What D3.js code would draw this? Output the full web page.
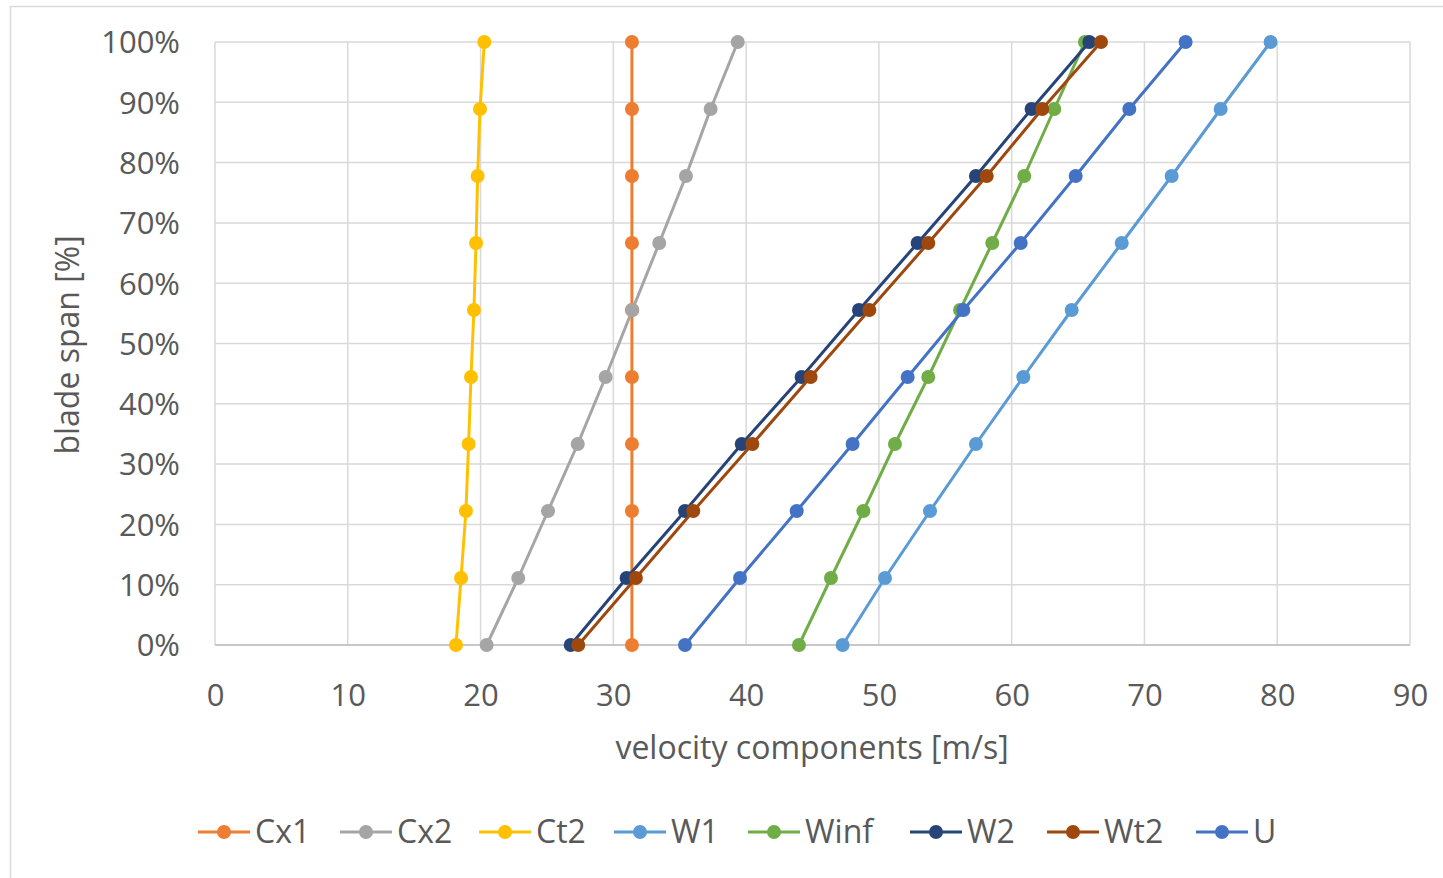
<!DOCTYPE html>
<html>
<head>
<meta charset="utf-8">
<script src="https://cdn.jsdelivr.net/npm/d3@7"></script>
<style>
  html, body { margin: 0; padding: 0; background: #fff; }
  svg { display: block; }
  text { font-family: "Open Sans", "Noto Sans", sans-serif; fill: #595959; }
</style>
</head>
<body>
<svg id="chart" width="1443" height="878"></svg>
<script>
// Blade span stations (fraction of span, 10 evenly spaced stations)
const span = [0, 1/9, 2/9, 3/9, 4/9, 5/9, 6/9, 7/9, 8/9, 1];

// Velocity components along the span [m/s]
const Cx1  = [31.4, 31.4, 31.4, 31.4, 31.4, 31.4, 31.4, 31.4, 31.4, 31.4];
const Cx2  = [20.46, 22.84, 25.08, 27.32, 29.42, 31.43, 33.46, 35.47, 37.33, 39.37];
const Ct2  = [18.15, 18.53, 18.9, 19.1, 19.28, 19.5, 19.66, 19.78, 19.96, 20.28];
const W1   = [47.27, 50.46, 53.85, 57.31, 60.88, 64.52, 68.29, 72.05, 75.74, 79.5];
const Winf = [43.98, 46.39, 48.83, 51.21, 53.72, 56.11, 58.54, 60.95, 63.21, 65.52];
const W2   = [26.79, 31.0, 35.4, 39.67, 44.18, 48.5, 52.92, 57.31, 61.5, 65.85];
const Wt2  = [27.36, 31.7, 36.02, 40.47, 44.86, 49.28, 53.72, 58.12, 62.3, 66.73];
const U    = [35.4, 39.54, 43.81, 48.02, 52.17, 56.36, 60.68, 64.82, 68.86, 73.1];

const seriesNames = ["Cx1", "Cx2", "Ct2", "W1", "Winf", "W2", "Wt2", "U"];
const seriesValues = [Cx1, Cx2, Ct2, W1, Winf, W2, Wt2, U];
const seriesColors = ["#ED7D31", "#A5A5A5", "#FFC000", "#5B9BD5", "#70AD47", "#264478", "#9E480E", "#4472C4"];

const xTicks = [0, 10, 20, 30, 40, 50, 60, 70, 80, 90];
const yTicks = [0, 0.1, 0.2, 0.3, 0.4, 0.5, 0.6, 0.7, 0.8, 0.9, 1.0];

const svg = d3.select("#chart");

// Chart frame
svg.append("rect")
  .attr("x", 10.5).attr("y", 6.5)
  .attr("width", 1440).attr("height", 880)
  .attr("fill", "#fff").attr("stroke", "#d9d9d9").attr("stroke-width", 1.5);

const plot = { left: 215, right: 1410, top: 42, bottom: 645 };

const x = d3.scaleLinear().domain([0, 90]).range([plot.left, plot.right]);
const y = d3.scaleLinear().domain([0, 1]).range([plot.bottom, plot.top]);

// Gridlines
const grid = svg.append("g");
grid.selectAll("line.v").data(xTicks).join("line")
  .attr("x1", d => x(d)).attr("x2", d => x(d))
  .attr("y1", plot.top).attr("y2", plot.bottom)
  .attr("stroke", "#d9d9d9").attr("stroke-width", 1.5);
grid.selectAll("line.h").data(yTicks).join("line")
  .attr("x1", plot.left).attr("x2", plot.right)
  .attr("y1", d => y(d)).attr("y2", d => y(d))
  .attr("stroke", "#d9d9d9").attr("stroke-width", 1.5);

// Bottom axis line
svg.append("line")
  .attr("x1", plot.left).attr("x2", plot.right)
  .attr("y1", plot.bottom).attr("y2", plot.bottom)
  .attr("stroke", "#bfbfbf").attr("stroke-width", 1.5);

// Axis tick labels
const xAxis = d3.axisBottom(x).tickValues(xTicks).tickSize(0).tickPadding(0);
const gx = svg.append("g").attr("transform", `translate(0,${plot.bottom})`).call(xAxis);
gx.select(".domain").remove();
gx.selectAll("text")
  .attr("y", 61).attr("dy", null)
  .style("font-size", "31px").style("fill", "#595959")
  .style("font-family", "'Open Sans', sans-serif");

const yAxis = d3.axisLeft(y).tickValues(yTicks).tickSize(0).tickPadding(0).tickFormat(d3.format(".0%"));
const gy = svg.append("g").attr("transform", `translate(${plot.left},0)`).call(yAxis);
gy.select(".domain").remove();
gy.selectAll("text")
  .attr("x", -35).attr("dy", "0.35em")
  .style("font-size", "31px").style("fill", "#595959")
  .style("font-family", "'Open Sans', sans-serif");

// Axis titles
svg.append("text")
  .attr("x", 812).attr("y", 759)
  .attr("text-anchor", "middle")
  .style("font-size", "32px")
  .text("velocity components [m/s]");

svg.append("text")
  .attr("transform", "translate(79,345) rotate(-90)")
  .attr("text-anchor", "middle")
  .style("font-size", "32px")
  .text("blade span [%]");

// Series lines and markers
const line = d3.line().x(d => x(d[0])).y(d => y(d[1]));

seriesNames.forEach((name, i) => {
  const pts = seriesValues[i].map((v, k) => [v, span[k]]);
  const g = svg.append("g").attr("class", "series");
  g.append("path")
    .datum(pts)
    .attr("d", line)
    .attr("fill", "none")
    .attr("stroke", seriesColors[i])
    .attr("stroke-width", 3)
    .attr("stroke-linejoin", "round");
  g.selectAll("circle").data(pts).join("circle")
    .attr("cx", d => x(d[0])).attr("cy", d => y(d[1]))
    .attr("r", 7)
    .attr("fill", seriesColors[i]);
});

// Legend
const legendX = [198, 340, 479, 614, 748, 910, 1047, 1196];
const legendY = 832;
const legend = svg.append("g");
seriesNames.forEach((name, i) => {
  const lg = legend.append("g").attr("transform", `translate(${legendX[i]},${legendY})`);
  lg.append("line").attr("x1", 0).attr("x2", 52).attr("y1", 0).attr("y2", 0)
    .attr("stroke", seriesColors[i]).attr("stroke-width", 3);
  lg.append("circle").attr("cx", 26).attr("cy", 0).attr("r", 7).attr("fill", seriesColors[i]);
  lg.append("text").attr("x", 57).attr("y", 0).attr("dy", "0.35em")
    .style("font-size", "32px").text(name);
});
</script>
</body>
</html>
